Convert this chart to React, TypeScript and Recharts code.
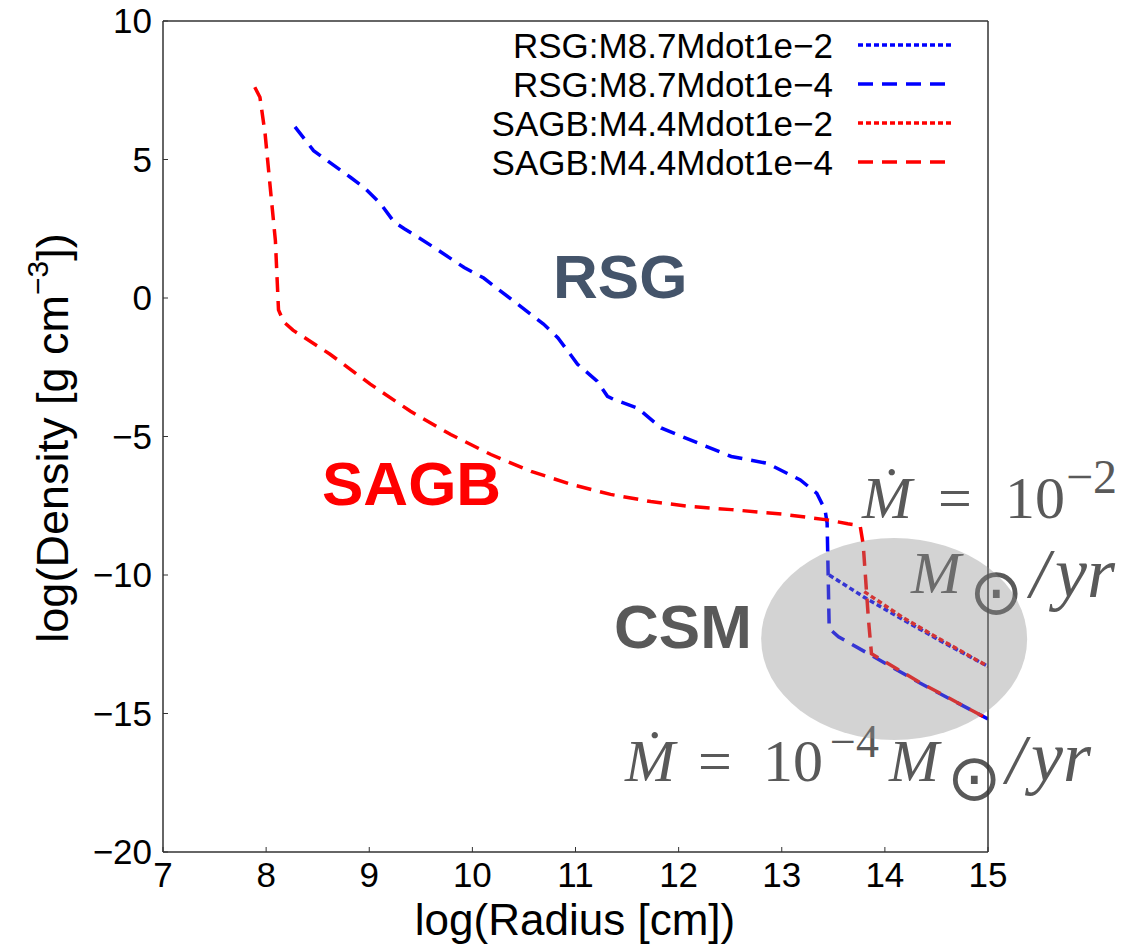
import React from "react";
import { LineChart, Line, XAxis, YAxis, ReferenceDot } from "recharts";

const xTicks = [7, 8, 9, 10, 11, 12, 13, 14, 15];
const yTicks = [-20, -15, -10, -5, 0, 5, 10];

// log(Radius), log(Density) pairs
const rsgMdot2: [number, number][] = [
  [13.46, -10.0], [13.82, -10.85], [14.18, -11.62], [14.55, -12.4], [15.0, -13.3],
];

const rsgMdot4: [number, number][] = [
  [8.28, 6.18], [8.38, 5.7], [8.46, 5.32], [8.56, 5.05], [8.82, 4.35], [8.95, 3.99],
  [9.11, 3.4], [9.24, 2.75], [9.34, 2.5], [9.47, 2.2], [9.63, 1.82], [9.92, 1.1],
  [10.11, 0.72], [10.4, -0.11], [10.69, -0.94], [10.83, -1.44], [11.02, -2.39],
  [11.21, -3.0], [11.31, -3.55], [11.37, -3.66], [11.6, -3.97], [11.83, -4.69],
  [12.19, -5.24], [12.51, -5.72], [12.86, -5.97], [13.18, -6.57], [13.34, -7.05],
  [13.42, -7.65], [13.44, -8.13], [13.45, -10.0], [13.46, -11.93], [13.55, -12.23],
  [13.83, -12.82], [14.34, -13.9], [15.0, -15.2],
];

const sagbMdot2: [number, number][] = [
  [13.8, -10.6], [14.18, -11.55], [14.55, -12.35], [15.0, -13.3],
];

const sagbMdot4: [number, number][] = [
  [7.89, 7.61], [7.94, 7.25], [7.99, 5.93], [8.04, 3.99], [8.09, 2.06],
  [8.12, -0.43], [8.17, -0.86], [8.26, -1.16], [8.62, -2.03], [9.01, -3.11],
  [9.4, -4.09], [9.79, -4.93], [10.18, -5.65], [10.57, -6.26], [10.96, -6.73],
  [11.34, -7.09], [11.73, -7.35], [12.12, -7.53], [12.51, -7.64], [13.0, -7.8],
  [13.44, -8.01], [13.64, -8.15], [13.76, -8.22], [13.79, -8.9], [13.84, -11.57],
  [13.87, -12.84], [14.34, -13.88], [15.0, -15.2],
];

const seriesNames = [
  "RSG:M8.7Mdot1e\u22122",
  "RSG:M8.7Mdot1e\u22124",
  "SAGB:M4.4Mdot1e\u22122",
  "SAGB:M4.4Mdot1e\u22124",
];
const seriesColors = ["#0000ff", "#0000ff", "#ff0000", "#ff0000"];
const seriesDash = ["5 3", "15 9", "5 3", "15 9"];
const seriesData = [rsgMdot2, rsgMdot4, sagbMdot2, sagbMdot4];

const sans = "'Liberation Sans', Arial, Helvetica, sans-serif";
const serif = "'Liberation Serif', 'Times New Roman', serif";
const gray = "#595959";

const fmt = (v: number) => (v < 0 ? `\u2212${-v}` : `${v}`);

const Legendish = () => (
  <g>
    {seriesNames.map((name, i) => {
      const cy = 45 + i * 39;
      return (
        <g key={name}>
          <text x={833} y={cy + 13} textAnchor="end" fontFamily={sans} fontSize={35} fill="#000">
            {name}
          </text>
          <line x1={858} x2={952} y1={cy} y2={cy} stroke={seriesColors[i]} strokeWidth={3.5} strokeDasharray={seriesDash[i]} />
        </g>
      );
    })}
  </g>
);

const MathNotes = () => (
  <g fill={gray} fontFamily={serif} fontSize={60}>
    <text x={862} y={518} fontStyle="italic">{"\u1E40"}</text>
    <text x={938} y={518}>=</text>
    <text x={1005} y={518}>10</text>
    <text x={1066} y={493} fontSize={48}>{"\u22122"}</text>
    <text x={911} y={593} fontStyle="italic">M</text>
    <text x={969} y={614} fontFamily="'DejaVu Sans'" fontSize={65}>{"\u2299"}</text>
    <text x={1030} y={597} fontStyle="italic" fontSize={70}>/</text>
    <text x={1055} y={597} fontStyle="italic" fontSize={72}>yr</text>

    <text x={625} y={781} fontStyle="italic">{"\u1E40"}</text>
    <text x={698} y={781}>=</text>
    <text x={763} y={781}>10</text>
    <text x={830} y={757} fontSize={46}>{"\u22124"}</text>
    <text x={889} y={781} fontStyle="italic">M</text>
    <text x={947} y={800} fontFamily="'DejaVu Sans'" fontSize={65}>{"\u2299"}</text>
    <text x={1006} y={783} fontStyle="italic" fontSize={70}>/</text>
    <text x={1031} y={781} fontStyle="italic" fontSize={72}>yr</text>
  </g>
);

const Labels = () => (
  <g fontFamily={sans}>
    <text x={553} y={298} fontSize={62} fontWeight="bold" fill="#44546a">RSG</text>
    <text x={322} y={505} fontSize={62} fontWeight="bold" fill="#ff0000">SAGB</text>
    <text x={614} y={648} fontSize={62} fontWeight="bold" fill={gray}>CSM</text>
    <text x={575} y={935} fontSize={44} textAnchor="middle" fill="#000">log(Radius [cm])</text>
    <text x={68} y={438} fontSize={45} textAnchor="middle" fill="#000" transform="rotate(-90 68 438)">
      log(Density [g cm<tspan fontSize={30} dy={-20}>{"\u22123"}</tspan>
      <tspan dy={20}>])</tspan>
    </text>
  </g>
);

export default function App() {
  const axisStroke = { stroke: "#333", strokeWidth: 1.5 };
  return (
    <div style={{ position: "absolute", left: 0, top: 0, background: "#fff" }}>
      <LineChart width={1137} height={947} margin={{ top: 20, right: 148, bottom: 0, left: 0 }}>
        <XAxis
          xAxisId="b"
          type="number"
          dataKey="x"
          domain={[7, 15]}
          ticks={xTicks}
          interval={0}
          allowDataOverflow
          height={95}
          tickSize={-5}
          tickMargin={15}
          tickFormatter={fmt}
          tick={{ fontSize: 35, fill: "#000", fontFamily: sans }}
          axisLine={axisStroke}
          tickLine={{ stroke: "#333" }}
        />
        <XAxis
          xAxisId="t"
          orientation="top"
          type="number"
          dataKey="x"
          domain={[7, 15]}
          ticks={xTicks}
          interval={0}
          allowDataOverflow
          height={1}
          tickSize={-5}
          tick={false}
          axisLine={axisStroke}
          tickLine={{ stroke: "#333" }}
        />
        <YAxis
          yAxisId="l"
          type="number"
          domain={[-20, 10]}
          ticks={yTicks}
          interval={0}
          allowDataOverflow
          width={163}
          tickSize={-5}
          tickMargin={16}
          tickFormatter={fmt}
          tick={{ fontSize: 35, fill: "#000", fontFamily: sans }}
          axisLine={axisStroke}
          tickLine={{ stroke: "#333" }}
        />
        <YAxis
          yAxisId="r"
          orientation="right"
          type="number"
          domain={[-20, 10]}
          ticks={yTicks}
          interval={0}
          allowDataOverflow
          width={1}
          tickSize={-5}
          tick={false}
          axisLine={axisStroke}
          tickLine={{ stroke: "#333" }}
        />
        {seriesData.map((arr, i) => (
          <Line
            key={seriesNames[i]}
            name={seriesNames[i]}
            xAxisId="b"
            yAxisId="l"
            data={arr.map(([x, y]) => ({ x, y }))}
            dataKey="y"
            type="linear"
            stroke={seriesColors[i]}
            strokeWidth={3.5}
            strokeDasharray={seriesDash[i]}
            dot={false}
            activeDot={false}
            isAnimationActive={false}
          />
        ))}
        <ReferenceDot
          xAxisId="b"
          yAxisId="l"
          x={14.09}
          y={-12.31}
          ifOverflow="visible"
          zIndex={1500}
          shape={(p: any) => (
            <ellipse cx={p.cx} cy={p.cy} rx={133} ry={101} fill="#8c8c8c" fillOpacity={0.38} />
          )}
        />
        <Legendish />
        <Labels />
        <MathNotes />
      </LineChart>
    </div>
  );
}
